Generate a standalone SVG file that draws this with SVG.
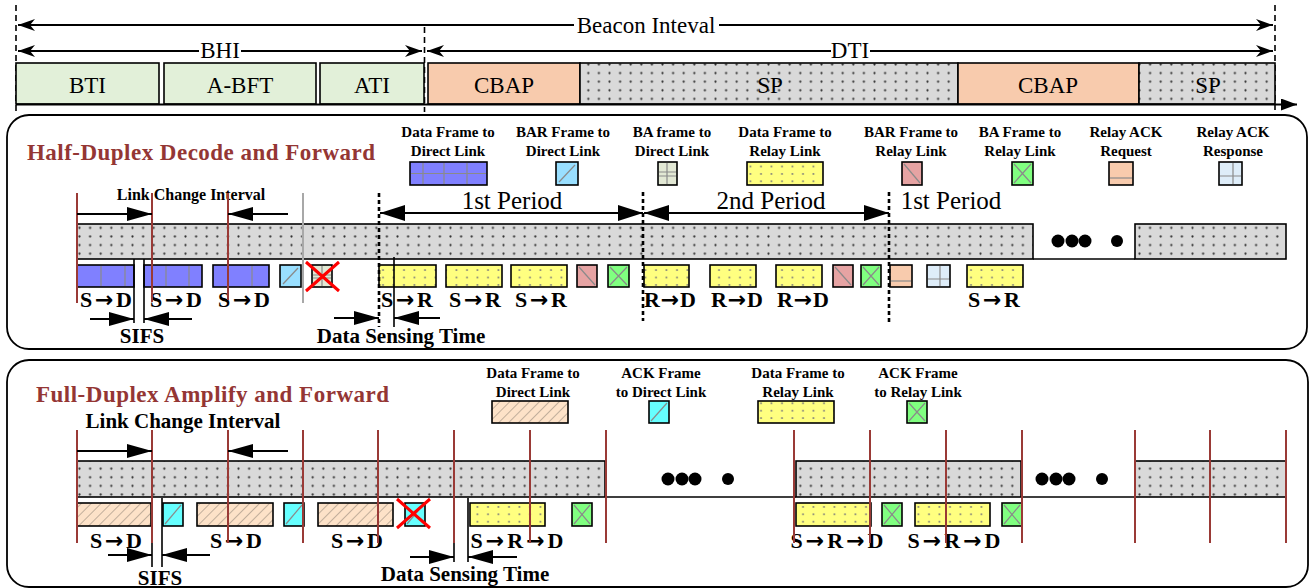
<svg xmlns="http://www.w3.org/2000/svg" width="1310" height="588" viewBox="0 0 1310 588">
<style>
.fr{stroke:#000;stroke-width:1.6}
.seam{stroke:#8a8a8a;stroke-width:1.2;fill:none}
.brn{stroke:#9a3a36;stroke-width:2;fill:none}
.gry{stroke:#a8a8a8;stroke-width:2;fill:none}
.ln{stroke:#000;stroke-width:2;fill:none}
.thin{stroke:#000;stroke-width:1.6;fill:none}
.dsh{stroke:#000;stroke-width:1.6;stroke-dasharray:6 4;fill:none}
.dot{stroke:#000;stroke-width:2.6;stroke-dasharray:4 3;fill:none}
.redx{stroke:#ff0000;stroke-width:3;fill:none}
.top{font-family:"Liberation Serif",serif;font-size:23px;text-anchor:middle;fill:#000}
.per{font-family:"Liberation Serif",serif;font-size:25px;text-anchor:middle;fill:#000}
.ttl{font-family:"Liberation Serif",serif;font-size:23px;font-weight:bold;fill:#943634}
.leg{font-family:"Liberation Serif",serif;font-size:15px;font-weight:bold;text-anchor:middle;fill:#000}
.lbl{font-family:"Liberation Serif",serif;font-size:22px;font-weight:bold;text-anchor:middle;fill:#000}
.cap{font-family:"Liberation Serif",serif;font-size:21px;font-weight:bold;text-anchor:middle;fill:#000}
.ar{font-family:"DejaVu Sans",sans-serif;font-size:22px;font-weight:bold}
.lci{font-family:"Liberation Serif",serif;font-weight:bold;text-anchor:middle;fill:#000}
.arE{marker-end:url(#ah);}
.bigE{marker-end:url(#tri);}
.bigB{marker-start:url(#tri2);marker-end:url(#tri2);}
.panel{fill:none;stroke:#000;stroke-width:1.8}
</style>
<defs>
<marker id="ah" viewBox="0 0 17 12" refX="17" refY="6" markerWidth="17" markerHeight="12" markerUnits="userSpaceOnUse" orient="auto"><path d="M0,0L17,6L0,12L5,6z" fill="#000"/></marker>
<marker id="tri" viewBox="0 0 25 14" refX="25" refY="7" markerWidth="25" markerHeight="14" markerUnits="userSpaceOnUse" orient="auto-start-reverse"><path d="M0,0L25,7L0,14z" fill="#000"/></marker>
<marker id="tri2" viewBox="0 0 25 16" refX="25" refY="8" markerWidth="25" markerHeight="16" markerUnits="userSpaceOnUse" orient="auto-start-reverse"><path d="M0,0L25,8L0,16z" fill="#000"/></marker>
<marker id="ahb" viewBox="0 0 16 12" refX="16" refY="6" markerWidth="16" markerHeight="12" markerUnits="userSpaceOnUse" orient="auto"><path d="M0,0L16,6L0,12z" fill="#000"/></marker>
<pattern id="pd" patternUnits="userSpaceOnUse" width="10.6" height="8.6"><rect width="10.6" height="8.6" fill="#d9d9d9"/><circle cx="5.3" cy="4.3" r="1.1" fill="#333"/></pattern>
<pattern id="py" patternUnits="userSpaceOnUse" width="10.5" height="7.4"><rect width="10.5" height="7.4" fill="#ffff80"/><circle cx="5" cy="3.7" r="1" fill="#7a7a7a"/></pattern>
<pattern id="ph" patternUnits="userSpaceOnUse" width="7" height="7" patternTransform="rotate(45)"><rect width="7" height="7" fill="#fde2c8"/><line x1="0" y1="0" x2="0" y2="7" stroke="#a89888" stroke-width="1.4"/></pattern>
</defs>
<rect width="1310" height="588" fill="#fff"/>

<g id="top-frame">
<path class="dsh" d="M16,5V112M424.5,27V112M1275,5V110"/>
<g id="bti"><rect class="fr" x="16" y="63" width="143" height="41" fill="#e2f0d9"/><text class="top" x="87.5" y="93">BTI</text></g>
<g id="abft"><rect class="fr" x="164" y="63" width="152" height="41" fill="#e2f0d9"/><text class="top" x="240" y="93">A-BFT</text></g>
<g id="ati"><rect class="fr" x="320" y="63" width="104" height="41" fill="#e2f0d9"/><text class="top" x="372" y="93">ATI</text></g>
<g id="cbap1"><rect class="fr" x="428" y="63" width="152" height="41" fill="#f8cbad"/><text class="top" x="504" y="93">CBAP</text></g>
<g id="sp1"><rect class="fr" x="580" y="63" width="378" height="41" fill="url(#pd)"/><text class="top" x="770" y="93">SP</text></g>
<g id="cbap2"><rect class="fr" x="958" y="63" width="181" height="41" fill="#f8cbad"/><text class="top" x="1048" y="93">CBAP</text></g>
<g id="sp2"><rect class="fr" x="1139" y="63" width="136" height="41" fill="url(#pd)"/><text class="top" x="1208" y="93">SP</text></g>
<text class="top" x="646" y="33">Beacon Inteval</text>
<text class="top" x="220" y="58">BHI</text>
<text class="top" x="850" y="58">DTI</text>
</g>

<g id="half-duplex">
<rect class="panel" x="7" y="115" width="1300" height="234" rx="22"/>
<text class="ttl" x="27" y="160" textLength="348">Half-Duplex Decode and Forward</text>
<g id="hd-leg-data-direct"><text class="leg" x="448" y="137">Data Frame to</text><text class="leg" x="448" y="156">Direct Link</text><rect class="fr" x="410" y="162" width="77" height="23" fill="#8080ff"/><path class="seam" d="M423,163V184M444,163V184M467,163V184M411,173.5H486"/></g>
<g id="hd-leg-bar-direct"><text class="leg" x="563" y="137">BAR Frame to</text><text class="leg" x="563" y="156">Direct Link</text><rect class="fr" x="556" y="162" width="22" height="23" fill="#99dfff"/><path class="seam" d="M559,182L575,165"/></g>
<g id="hd-leg-ba-direct"><text class="leg" x="672" y="137">BA frame to</text><text class="leg" x="672" y="156">Direct Link</text><rect class="fr" x="658" y="162" width="19" height="23" fill="#e2e8d4"/><path class="seam" d="M667,163V184M659,172H676M659,176H676"/></g>
<g id="hd-leg-data-relay"><text class="leg" x="785" y="137">Data Frame to</text><text class="leg" x="785" y="156">Relay Link</text><rect class="fr" x="747" y="162" width="76" height="23" fill="url(#py)"/></g>
<g id="hd-leg-bar-relay"><text class="leg" x="911" y="137">BAR Frame to</text><text class="leg" x="911" y="156">Relay Link</text><rect class="fr" x="902" y="162" width="20" height="23" fill="#e6a3a3"/><path class="seam" d="M904,164L920,183"/></g>
<g id="hd-leg-ba-relay"><text class="leg" x="1020" y="137">BA Frame to</text><text class="leg" x="1020" y="156">Relay Link</text><rect class="fr" x="1012" y="162" width="21" height="23" fill="#80ff80"/><path class="seam" d="M1014,164L1031,183M1031,164L1014,183"/></g>
<g id="hd-leg-rack-req"><text class="leg" x="1126" y="137">Relay ACK</text><text class="leg" x="1126" y="156">Request</text><rect class="fr" x="1109" y="162" width="24" height="23" fill="#f8cbad"/><path class="seam" d="M1110,178H1132"/></g>
<g id="hd-leg-rack-resp"><text class="leg" x="1233" y="137">Relay ACK</text><text class="leg" x="1233" y="156">Response</text><rect class="fr" x="1219" y="162" width="23" height="23" fill="#deedf9"/><path class="seam" d="M1233,163V184M1220,176H1241"/></g>
<g id="hd-bar1"><rect class="fr" x="77" y="224" width="956" height="35" fill="url(#pd)"/></g>
<g id="hd-bar2"><rect class="fr" x="1135" y="224" width="151" height="35" fill="url(#pd)"/></g>
<path class="thin" d="M1033,259H1135"/>
<g id="hd-dots"><circle cx="1058" cy="241" r="6.5"/><circle cx="1072" cy="241" r="6.5"/><circle cx="1085" cy="241" r="6.5"/><circle cx="1117" cy="241" r="6"/></g>
<g id="hd-f1"><rect class="fr" x="77" y="265" width="57" height="22" fill="#8080ff"/><path class="seam" d="M101,266V286M125,266V286"/></g>
<g id="hd-f2"><rect class="fr" x="144" y="265" width="58" height="22" fill="#8080ff"/><path class="seam" d="M166,266V286M189,266V286"/></g>
<g id="hd-f3"><rect class="fr" x="213" y="265" width="56" height="22" fill="#8080ff"/><path class="seam" d="M252,266V286"/></g>
<g id="hd-f4"><rect class="fr" x="280" y="265" width="21" height="22" fill="#99dfff"/><path class="seam" d="M283,284L298,268"/></g>
<g id="hd-f5"><rect class="fr" x="312" y="265" width="20" height="22" fill="#e2e8d4"/><path class="seam" d="M322,266V286M313,275H331M313,278H331"/><path class="redx" d="M306,262L339,291M339,262L306,291"/></g>
<g id="hd-f6"><rect class="fr" x="379" y="265" width="57" height="22" fill="url(#py)"/></g>
<g id="hd-f7"><rect class="fr" x="446" y="265" width="56" height="22" fill="url(#py)"/></g>
<g id="hd-f8"><rect class="fr" x="511" y="265" width="56" height="22" fill="url(#py)"/></g>
<g id="hd-f9"><rect class="fr" x="577" y="265" width="20" height="22" fill="#e6a3a3"/><path class="seam" d="M579,267L595,285"/></g>
<g id="hd-f10"><rect class="fr" x="608" y="265" width="21" height="22" fill="#80ff80"/><path class="seam" d="M610,267L627,285M627,267L610,285"/></g>
<g id="hd-f11"><rect class="fr" x="644" y="265" width="45" height="22" fill="url(#py)"/></g>
<g id="hd-f12"><rect class="fr" x="710" y="265" width="46" height="22" fill="url(#py)"/></g>
<g id="hd-f13"><rect class="fr" x="776" y="265" width="46" height="22" fill="url(#py)"/></g>
<g id="hd-f14"><rect class="fr" x="833" y="265" width="20" height="22" fill="#e6a3a3"/><path class="seam" d="M835,267L851,285"/></g>
<g id="hd-f15"><rect class="fr" x="861" y="265" width="20" height="22" fill="#80ff80"/><path class="seam" d="M863,267L879,285M879,267L863,285"/></g>
<g id="hd-f16"><rect class="fr" x="890" y="265" width="22" height="22" fill="#f8cbad"/><path class="seam" d="M891,281H911"/></g>
<g id="hd-f17"><rect class="fr" x="927" y="265" width="23" height="22" fill="#deedf9"/><path class="seam" d="M940,266V286M928,279H949"/></g>
<g id="hd-f18"><rect class="fr" x="967" y="265" width="56" height="22" fill="url(#py)"/></g>
<text class="lbl" x="106" y="307" textLength="52">S<tspan class="ar">→</tspan>D</text>
<text class="lbl" x="176" y="307" textLength="52">S<tspan class="ar">→</tspan>D</text>
<text class="lbl" x="244" y="307" textLength="52">S<tspan class="ar">→</tspan>D</text>
<text class="lbl" x="407" y="307" textLength="52">S<tspan class="ar">→</tspan>R</text>
<text class="lbl" x="475" y="307" textLength="52">S<tspan class="ar">→</tspan>R</text>
<text class="lbl" x="541" y="307" textLength="52">S<tspan class="ar">→</tspan>R</text>
<text class="lbl" x="670" y="307" textLength="52">R<tspan class="ar">→</tspan>D</text>
<text class="lbl" x="737" y="307" textLength="52">R<tspan class="ar">→</tspan>D</text>
<text class="lbl" x="803" y="307" textLength="52">R<tspan class="ar">→</tspan>D</text>
<text class="lbl" x="994" y="307" textLength="52">S<tspan class="ar">→</tspan>R</text>
<text class="lci" x="191" y="200" font-size="16">Link Change Interval</text>
<text class="cap" x="142" y="343">SIFS</text>
<text class="cap" x="401" y="343">Data Sensing Time</text>
<text class="per" x="512" y="209">1st Period</text>
<text class="per" x="771" y="209">2nd Period</text>
<text class="per" x="951" y="209">1st Period</text>
</g>

<g id="full-duplex">
<rect class="panel" x="7" y="360" width="1301" height="227" rx="22"/>
<text class="ttl" x="36" y="402" textLength="353">Full-Duplex Amplify and Forward</text>
<g id="fd-leg-data-direct"><text class="leg" x="533" y="378">Data Frame to</text><text class="leg" x="533" y="397">Direct Link</text><rect class="fr" x="492" y="401" width="76" height="22" fill="url(#ph)"/></g>
<g id="fd-leg-ack-direct"><text class="leg" x="661" y="378">ACK Frame</text><text class="leg" x="661" y="397">to Direct Link</text><rect class="fr" x="649" y="401" width="20" height="22" fill="#66ffff"/><path class="seam" d="M651,421L667,403"/></g>
<g id="fd-leg-data-relay"><text class="leg" x="798" y="378">Data Frame to</text><text class="leg" x="798" y="397">Relay Link</text><rect class="fr" x="758" y="401" width="76" height="22" fill="url(#py)"/></g>
<g id="fd-leg-ack-relay"><text class="leg" x="918" y="378">ACK Frame</text><text class="leg" x="918" y="397">to Relay Link</text><rect class="fr" x="907" y="401" width="20" height="22" fill="#80ff80"/><path class="seam" d="M909,403L925,421M925,403L909,421"/></g>
<g id="fd-bar1"><rect class="fr" x="77" y="461" width="528" height="36" fill="url(#pd)"/></g>
<g id="fd-bar2"><rect class="fr" x="796" y="461" width="225" height="36" fill="url(#pd)"/></g>
<g id="fd-bar3"><rect class="fr" x="1135" y="461" width="151" height="36" fill="url(#pd)"/></g>
<path class="thin" d="M605,497H796M1021,497H1135"/>
<g id="fd-dots1"><circle cx="668" cy="479" r="6.5"/><circle cx="682" cy="479" r="6.5"/><circle cx="695" cy="479" r="6.5"/><circle cx="728" cy="479" r="6"/></g>
<g id="fd-dots2"><circle cx="1042" cy="479" r="6.5"/><circle cx="1056" cy="479" r="6.5"/><circle cx="1069" cy="479" r="6.5"/><circle cx="1102" cy="479" r="6"/></g>
<g id="fd-f1"><rect class="fr" x="77" y="503" width="74" height="23" fill="url(#ph)"/></g>
<g id="fd-f2"><rect class="fr" x="163" y="503" width="20" height="23" fill="#66ffff"/><path class="seam" d="M165,524L181,505"/></g>
<g id="fd-f3"><rect class="fr" x="197" y="503" width="76" height="23" fill="url(#ph)"/></g>
<g id="fd-f4"><rect class="fr" x="284" y="503" width="20" height="23" fill="#66ffff"/><path class="seam" d="M286,524L302,505"/></g>
<g id="fd-f5"><rect class="fr" x="318" y="503" width="75" height="23" fill="url(#ph)"/></g>
<g id="fd-f6"><rect class="fr" x="405" y="503" width="20" height="23" fill="#66ffff"/><path class="seam" d="M407,524L423,505"/><path class="redx" d="M397,499L430,528M430,499L397,528"/></g>
<g id="fd-f7"><rect class="fr" x="470" y="503" width="75" height="23" fill="url(#py)"/></g>
<g id="fd-f8"><rect class="fr" x="572" y="503" width="20" height="23" fill="#80ff80"/><path class="seam" d="M574,505L590,524M590,505L574,524"/></g>
<g id="fd-f9"><rect class="fr" x="796" y="503" width="75" height="23" fill="url(#py)"/></g>
<g id="fd-f10"><rect class="fr" x="882" y="503" width="20" height="23" fill="#80ff80"/><path class="seam" d="M884,505L900,524M900,505L884,524"/></g>
<g id="fd-f11"><rect class="fr" x="915" y="503" width="75" height="23" fill="url(#py)"/></g>
<g id="fd-f12"><rect class="fr" x="1002" y="503" width="20" height="23" fill="#80ff80"/><path class="seam" d="M1004,505L1020,524M1020,505L1004,524"/></g>
<text class="lbl" x="116" y="548" textLength="52">S<tspan class="ar">→</tspan>D</text>
<text class="lbl" x="236" y="548" textLength="52">S<tspan class="ar">→</tspan>D</text>
<text class="lbl" x="357" y="548" textLength="52">S<tspan class="ar">→</tspan>D</text>
<text class="lbl" x="517" y="548" textLength="93">S<tspan class="ar">→</tspan>R<tspan class="ar">→</tspan>D</text>
<text class="lbl" x="837" y="548" textLength="93">S<tspan class="ar">→</tspan>R<tspan class="ar">→</tspan>D</text>
<text class="lbl" x="954" y="548" textLength="93">S<tspan class="ar">→</tspan>R<tspan class="ar">→</tspan>D</text>
<text class="lci" x="183" y="428" font-size="21">Link Change Interval</text>
<text class="cap" x="160" y="585">SIFS</text>
<text class="cap" x="465" y="581">Data Sensing Time</text>
</g>

<g id="connectors">
<path class="ln arE" d="M574,25H18"/>
<path class="ln arE" d="M719,25H1273"/>
<path class="ln arE" d="M199,51H18"/>
<path class="ln arE" d="M241,51H422"/>
<path class="ln arE" d="M831,51H427"/>
<path class="ln arE" d="M870,51H1273"/>
<path class="ln" d="M16,104.5H1297" stroke-width="2.4" marker-end="url(#ahb)"/>
<path class="brn" d="M77,193V303M152,193V302M228,193V300"/>
<path class="gry" d="M303,193V303"/>
<path class="dot" d="M379,193V327M643,192V321M889,192V322"/>
<path class="thin" d="M134,259V323M144,259V323M394,257V327"/>
<path class="ln bigE" d="M77,214H152"/>
<path class="ln bigE" d="M288,214H228"/>
<path class="ln bigE" d="M90,319H134"/>
<path class="ln bigE" d="M192,319H144"/>
<path class="ln bigE" d="M334,318H379"/>
<path class="ln bigE" d="M440,318H394"/>
<path class="ln bigB" d="M380,213H643"/>
<path class="ln bigB" d="M644,213H889"/>
<path class="brn" d="M77,430V543M152,430V543M228,430V543M303,430V543M378,430V543M454,430V543M530,430V543M606,430V543M794,430V543M870,430V543M946,430V543M1022,430V543M1135,430V543M1210,430V543M1286,430V543"/>
<path class="thin" d="M152,543V567M162,498V567M454,543V562M468,498V562"/>
<path class="ln bigE" d="M77,451H152"/>
<path class="ln bigE" d="M288,451H228"/>
<path class="ln bigE" d="M108,555H152"/>
<path class="ln bigE" d="M210,555H162"/>
<path class="ln bigE" d="M410,557H454"/>
<path class="ln bigE" d="M517,557H468"/>
</g>
</svg>
